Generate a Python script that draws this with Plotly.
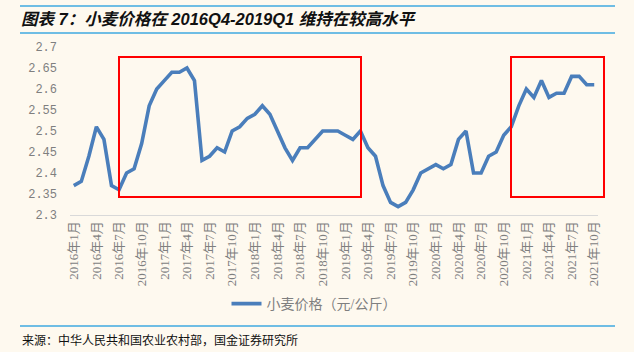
import plotly.graph_objects as go

# ---- data ----
months = [f"{y}年{m}月" for y in range(2016, 2022) for m in range(1, 13)][:70]
wheat_price = [
    2.37, 2.38, 2.44, 2.51, 2.48, 2.37, 2.36, 2.40, 2.41, 2.47,
    2.56, 2.60, 2.62, 2.64, 2.64, 2.65, 2.62, 2.43, 2.44, 2.46,
    2.45, 2.50, 2.51, 2.53, 2.54, 2.56, 2.54, 2.50, 2.46, 2.43,
    2.46, 2.46, 2.48, 2.50, 2.50, 2.50, 2.49, 2.48, 2.50, 2.46,
    2.44, 2.37, 2.33, 2.32, 2.33, 2.36, 2.40, 2.41, 2.42, 2.41,
    2.42, 2.48, 2.50, 2.40, 2.40, 2.44, 2.45, 2.49, 2.51, 2.56,
    2.60, 2.58, 2.62, 2.58, 2.59, 2.59, 2.63, 2.63, 2.61, 2.61,
]
tick_idx = list(range(0, 70, 3))
tick_labels = [months[i] for i in tick_idx]
y_ticks = [2.3, 2.35, 2.4, 2.45, 2.5, 2.55, 2.6, 2.65, 2.7]
y_tick_labels = ["2.3", "2.35", "2.4", "2.45", "2.5", "2.55", "2.6", "2.65", "2.7"]
series_name = "小麦价格（元/公斤）"
title_text = "图表 7：小麦价格在 2016Q4-2019Q1 维持在较高水平"
source_text = "来源：中华人民共和国农业农村部，国金证券研究所"

# ---- layout geometry (pixels) ----
W, H = 634, 352
L, R, T, B = 70, 598, 47, 215


def px_x(p):
    return (p - L) / (R - L)


def px_y(p):
    return (B - p) / (B - T)


BG = "#FEF9EF"
GRAY = "#7F7F7F"
CJK = "Liberation Serif, Noto Sans CJK SC, sans-serif"

fig = go.Figure()
fig.add_trace(go.Scatter(
    x=list(range(len(wheat_price))), y=wheat_price, mode="lines",
    name=series_name,
    line=dict(color="#4A7EBB", width=3.6),
))

shapes = [
    # title rules
    dict(type="line", xref="paper", yref="paper", x0=px_x(20), x1=px_x(615),
         y0=px_y(6), y1=px_y(6), line=dict(color="#3FA9E0", width=1.5)),
    dict(type="line", xref="paper", yref="paper", x0=px_x(20), x1=px_x(615),
         y0=px_y(33), y1=px_y(33), line=dict(color="#3FA9E0", width=1.5)),
    dict(type="line", xref="paper", yref="paper", x0=px_x(20), x1=px_x(615),
         y0=px_y(326), y1=px_y(326), line=dict(color="#3FA9E0", width=1.5)),
    # highlight boxes
    dict(type="rect", xref="paper", yref="paper", x0=px_x(119), x1=px_x(361),
         y0=px_y(197), y1=px_y(57), line=dict(color="#FF0000", width=2)),
    dict(type="rect", xref="paper", yref="paper", x0=px_x(511), x1=px_x(604),
         y0=px_y(197), y1=px_y(57), line=dict(color="#FF0000", width=2)),
]

annotations = [
    dict(text=f"<b><i>{title_text}</i></b>", xref="paper", yref="paper",
         x=px_x(19), y=px_y(19), xanchor="left", yanchor="middle",
         showarrow=False,
         font=dict(family="Liberation Sans, Noto Sans CJK SC", size=16.5, color="#111111")),
    dict(text=source_text, xref="paper", yref="paper",
         x=px_x(20), y=px_y(339), xanchor="left", yanchor="middle",
         showarrow=False,
         font=dict(family="Noto Sans CJK SC", size=12, color="#111111")),
]

fig.update_layout(
    width=W, height=H,
    margin=dict(l=L, r=W - R, t=T, b=H - B, pad=0),
    paper_bgcolor=BG, plot_bgcolor=BG,
    showlegend=True,
    legend=dict(orientation="h", x=px_x(314), y=px_y(304), xanchor="center",
                yanchor="middle", bgcolor="rgba(0,0,0,0)",
                font=dict(family=CJK, size=14, color=GRAY), itemwidth=30),
    shapes=shapes, annotations=annotations,
    xaxis=dict(range=[-0.5, len(wheat_price) - 0.5], tickmode="array",
               tickvals=tick_idx, ticktext=tick_labels, tickangle=-90,
               showgrid=False, zeroline=False, showline=True,
               linecolor="#D9D9D9", linewidth=1, ticks="",
               tickfont=dict(family=CJK, size=13, color=GRAY)),
    yaxis=dict(range=[2.3, 2.7], tickmode="array", tickvals=y_ticks,
               ticktext=y_tick_labels, showgrid=False, zeroline=False,
               showline=False, ticks="", ticklabelstandoff=12,
               tickfont=dict(family="Liberation Mono, monospace", size=12, color=GRAY)),
)

fig.write_html("out.html")
